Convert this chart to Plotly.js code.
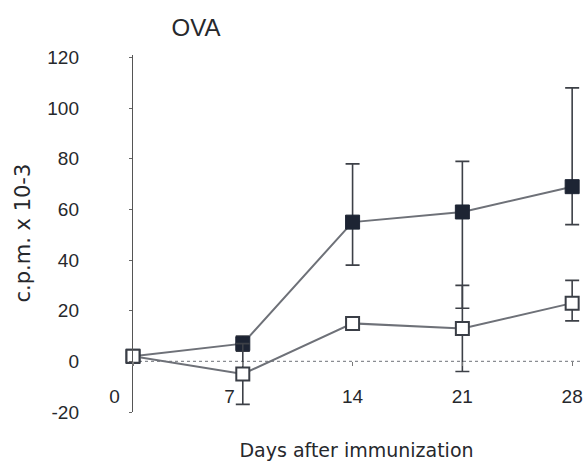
<!DOCTYPE html>
<html>
<head>
<meta charset="utf-8">
<script src="https://cdn.plot.ly/plotly-3.0.1.min.js"></script>
<style>html,body{margin:0;padding:0;background:#fff;}#chart{width:585px;height:466px;}</style>
</head>
<body>
<div id="chart"></div>
<script>
// ---- data ----
const days = [0, 7, 14, 21, 28];
const dayLabels = ["0", "7", "14", "21", "28"];
const yTicks = [-20, 0, 20, 40, 60, 80, 100, 120];
const yTickLabels = ["-20", "0", "20", "40", "60", "80", "100", "120"];

const filledMean = [2, 7, 55, 59, 69];
const filledErrPlus = [0, 3, 23, 20, 39];
const filledErrMinus = [0, 3, 17, 38, 15];

const openMean = [2, -5, 15, 13, 23];
const openErrPlus = [0, 12, 2, 17, 9];
const openErrMinus = [0, 12, 2, 17, 7];

const chartTitle = "OVA";
const xTitle = "Days after immunization";
const yTitle = "c.p.m. x 10-3";

// ---- chart ----
const W = 585, H = 466;
const M = {l: 133, r: 5, t: 55, b: 54};
const plotW = W - M.l - M.r;
const yMin = -20, yMax = 121;
const lineColor = "#6e7178";

const traceFilled = {
  x: days, y: filledMean, type: "scatter", mode: "lines+markers",
  line: {color: lineColor, width: 2},
  marker: {symbol: "square", size: 14, color: "#1d2433", line: {color: "#1d2433", width: 1}},
  error_y: {type: "data", symmetric: false, array: filledErrPlus, arrayminus: filledErrMinus,
            color: "#3d4047", thickness: 1.6, width: 7},
  cliponaxis: false, showlegend: false, hoverinfo: "x+y"
};
const traceOpen = {
  x: days, y: openMean, type: "scatter", mode: "lines+markers",
  line: {color: lineColor, width: 2},
  marker: {symbol: "square", size: 13, color: "#ffffff", line: {color: "#3a3e46", width: 2}},
  error_y: {type: "data", symmetric: false, array: openErrPlus, arrayminus: openErrMinus,
            color: "#3d4047", thickness: 1.6, width: 7},
  cliponaxis: false, showlegend: false, hoverinfo: "x+y"
};

// pad the first two labels so they sit left of their ticks, as in the reference
const labelPad = [7, 5, 0, 0, 0];
const xTickText = dayLabels.map((t, i) => t + "\u00a0".repeat(labelPad[i]));

const layout = {
  width: W, height: H,
  margin: M,
  paper_bgcolor: "#ffffff", plot_bgcolor: "#ffffff",
  font: {family: "Liberation Sans, Arial, sans-serif", color: "#26282c"},
  title: {text: chartTitle, x: 196 / W, xanchor: "center", xref: "container",
          y: 1 - 28 / H, yanchor: "middle", yref: "container",
          font: {size: 24, color: "#26282c"}},
  xaxis: {
    range: [0, 28.5], anchor: "free", position: (0 - yMin) / (yMax - yMin),
    showline: false, showgrid: false, zeroline: false,
    tickmode: "array", tickvals: days, ticktext: xTickText,
    ticks: "outside", ticklen: 4, tickcolor: "#777", tickwidth: 1.2,
    tickfont: {size: 19}, ticklabelstandoff: 14,
    title: {text: xTitle, font: {size: 19, family: "DejaVu Sans, sans-serif"}, standoff: 37}
  },
  yaxis: {
    range: [yMin, yMax], showline: true, linecolor: "#555", linewidth: 1.2,
    showgrid: false, zeroline: false,
    tickmode: "array", tickvals: yTicks, ticktext: yTickLabels,
    ticks: "outside", ticklen: 3, tickcolor: "#666", tickwidth: 1,
    tickfont: {size: 19}, ticklabelstandoff: 46
  },
  annotations: [{
    text: yTitle, xref: "paper", yref: "paper",
    x: -(M.l - 22) / plotW, y: 0.5, xanchor: "center", yanchor: "middle",
    textangle: -90, showarrow: false,
    font: {size: 21, family: "DejaVu Sans, sans-serif", color: "#26282c"}
  }],
  shapes: [{
    type: "line", xref: "x", yref: "y", x0: 0, x1: 28.5, y0: 0, y1: 0,
    line: {color: "#8a8d92", width: 1.3, dash: "3px,3px"}, layer: "below"
  }]
};

Plotly.newPlot("chart", [traceFilled, traceOpen], layout, {displayModeBar: false, staticPlot: true});
</script>
</body>
</html>
